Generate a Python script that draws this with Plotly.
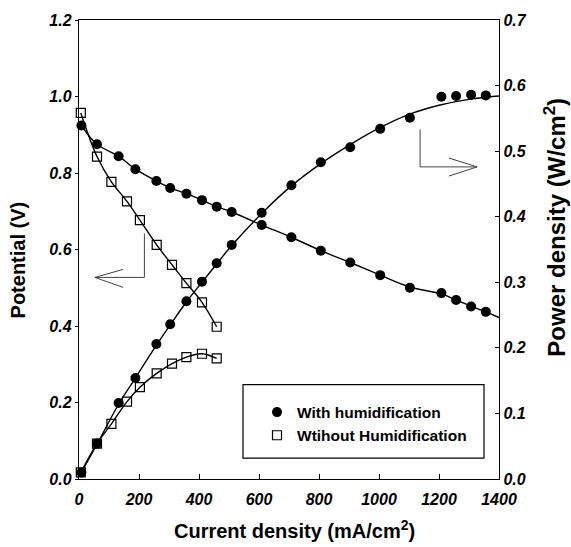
import plotly.graph_objects as go

# ---- data ----
I_hum = [8, 60, 132, 188, 258, 304, 358, 410, 459, 509, 609, 708, 806, 904, 1004, 1103, 1208, 1257, 1307, 1356]
V_hum = [0.924, 0.875, 0.844, 0.810, 0.779, 0.761, 0.746, 0.729, 0.712, 0.698, 0.664, 0.632, 0.597, 0.566, 0.533, 0.500, 0.486, 0.468, 0.451, 0.437]
P_hum = [0.010, 0.054, 0.116, 0.154, 0.206, 0.236, 0.271, 0.301, 0.329, 0.357, 0.406, 0.448, 0.483, 0.506, 0.534, 0.551, 0.583, 0.584, 0.586, 0.585]

I_dry = [6, 60, 108, 160, 203, 259, 310, 358, 410, 459]
V_dry = [0.957, 0.843, 0.777, 0.726, 0.677, 0.612, 0.560, 0.512, 0.462, 0.398]
P_dry = [0.010, 0.054, 0.084, 0.118, 0.140, 0.161, 0.176, 0.186, 0.191, 0.184]

# fitted curves
I_hum_fitV = [8, 60, 132, 188, 258, 304, 358, 410, 459, 509, 609, 708, 806, 904, 1004, 1103, 1208, 1257, 1307, 1356, 1400]
V_hum_fit = [0.924, 0.875, 0.844, 0.810, 0.779, 0.761, 0.746, 0.729, 0.712, 0.698, 0.664, 0.632, 0.597, 0.566, 0.533, 0.502, 0.484, 0.468, 0.452, 0.437, 0.422]
I_hum_fitP = [8, 60, 132, 188, 258, 304, 358, 410, 459, 509, 609, 708, 806, 904, 1000, 1100, 1200, 1300, 1400]
P_hum_fit = [0.010, 0.053, 0.114, 0.154, 0.204, 0.235, 0.270, 0.300, 0.328, 0.356, 0.405, 0.447, 0.481, 0.510, 0.535, 0.556, 0.570, 0.579, 0.584]

x_ticks = [0, 200, 400, 600, 800, 1000, 1200, 1400]
y_ticks = [0.0, 0.2, 0.4, 0.6, 0.8, 1.0, 1.2]
y2_ticks = [0.0, 0.1, 0.2, 0.3, 0.4, 0.5, 0.6, 0.7]

FONT = "Liberation Sans, Arial, sans-serif"
LINE = dict(color="black", width=1.4)
CIRC = dict(symbol="circle", size=10, color="black")
SQR = dict(symbol="square-open", size=9, color="black", line=dict(width=1.2, color="black"))

fig = go.Figure()
# lines
fig.add_trace(go.Scatter(x=I_hum_fitV, y=V_hum_fit, mode="lines", line=dict(**LINE, shape="spline"),
                         showlegend=False, hoverinfo="skip"))
fig.add_trace(go.Scatter(x=I_dry, y=V_dry, mode="lines", line=dict(**LINE, shape="spline"),
                         showlegend=False, hoverinfo="skip"))
fig.add_trace(go.Scatter(x=I_hum_fitP, y=P_hum_fit, mode="lines", line=dict(**LINE, shape="spline"),
                         yaxis="y2", showlegend=False, hoverinfo="skip"))
fig.add_trace(go.Scatter(x=I_dry, y=P_dry, mode="lines", line=dict(**LINE, shape="spline"),
                         yaxis="y2", showlegend=False, hoverinfo="skip"))
# markers
fig.add_trace(go.Scatter(x=I_hum, y=V_hum, mode="markers", marker=CIRC, name="With humidification",
                         legendgroup="hum", cliponaxis=False))
fig.add_trace(go.Scatter(x=I_dry, y=V_dry, mode="markers", marker=SQR, name="Wtihout Humidification",
                         legendgroup="dry", cliponaxis=False))
fig.add_trace(go.Scatter(x=I_hum, y=P_hum, mode="markers", marker=CIRC, yaxis="y2", showlegend=False,
                         legendgroup="hum", cliponaxis=False))
fig.add_trace(go.Scatter(x=I_dry, y=P_dry, mode="markers", marker=SQR, yaxis="y2", showlegend=False,
                         legendgroup="dry", cliponaxis=False))

tickfont = dict(family=FONT, size=16, color="black", weight="bold", style="italic")
L, R, T, B = 79, 72, 17, 68
W, H = 571, 547
pw, ph = W - L - R, H - T - B

def px(x):
    return (x - L) / pw

def py(y):
    return (H - B - y) / ph

fig.update_layout(
    width=W, height=H,
    margin=dict(l=L, r=R, t=T, b=B),
    paper_bgcolor="white", plot_bgcolor="white",
    font=dict(family=FONT, color="black"),
    xaxis=dict(range=[0, 1400], tickvals=x_ticks, ticktext=[str(v) for v in x_ticks],
               showgrid=False, zeroline=False, showline=True, linecolor="black", linewidth=1.4,
               mirror=True, ticks="inside", ticklen=5, tickcolor="black", tickfont=tickfont,
               ticklabelstandoff=6),
    yaxis=dict(range=[0, 1.2], tickvals=y_ticks, ticktext=[f"{v:.1f}" for v in y_ticks],
               showgrid=False, zeroline=False, showline=True, linecolor="black", linewidth=1.4,
               ticks="outside", ticklen=3, tickcolor="black", tickfont=tickfont),
    yaxis2=dict(range=[0, 0.7], tickvals=y2_ticks, ticktext=[f"{v:.1f}" for v in y2_ticks],
                overlaying="y", side="right", showgrid=False, zeroline=False, showline=True,
                linecolor="black", linewidth=1.4, ticks="inside", ticklen=4, tickcolor="black",
                tickfont=tickfont),
    showlegend=True,
    legend=dict(x=px(257), y=py(395), xanchor="left", yanchor="top", bgcolor="rgba(0,0,0,0)",
                borderwidth=0, tracegroupgap=0,
                font=dict(family=FONT, size=15.5, color="black", weight="bold")),
    annotations=[
        dict(text="Current density (mA/cm<sup>2</sup>)", xref="paper", yref="paper", x=px(294), y=py(530),
             xanchor="center", yanchor="middle", showarrow=False,
             font=dict(family=FONT, size=20, color="black", weight="bold")),
        dict(text="Potential (V)", xref="paper", yref="paper", x=px(18), y=py(258), textangle=-90,
             xanchor="center", yanchor="middle", showarrow=False,
             font=dict(family=FONT, size=20, color="black", weight="bold")),
        dict(text="Power density (W/cm<sup>2</sup>)", xref="paper", yref="paper", x=px(555), y=py(226),
             textangle=-90, xanchor="center", yanchor="middle", showarrow=False,
             font=dict(family=FONT, size=24, color="black", weight="bold")),
    ],
    shapes=[
        # legend frame
        dict(type="rect", xref="paper", yref="paper", x0=px(243), x1=px(484), y0=py(458), y1=py(384),
             line=dict(color="black", width=1.2), fillcolor="rgba(0,0,0,0)"),
        # left arrow
        dict(type="line", xref="x", yref="y", x0=218, x1=218, y0=0.642, y1=0.527, line=dict(color="#444", width=1)),
        dict(type="line", xref="x", yref="y", x0=218, x1=53, y0=0.527, y1=0.527, line=dict(color="#444", width=1)),
        dict(type="line", xref="x", yref="y", x0=53, x1=147, y0=0.527, y1=0.548, line=dict(color="#444", width=1)),
        dict(type="line", xref="x", yref="y", x0=53, x1=147, y0=0.527, y1=0.501, line=dict(color="#444", width=1)),
        # right arrow
        dict(type="line", xref="x", yref="y", x0=1137, x1=1137, y0=0.914, y1=0.816, line=dict(color="#444", width=1)),
        dict(type="line", xref="x", yref="y", x0=1137, x1=1327, y0=0.816, y1=0.816, line=dict(color="#444", width=1)),
        dict(type="line", xref="x", yref="y", x0=1327, x1=1233, y0=0.816, y1=0.839, line=dict(color="#444", width=1)),
        dict(type="line", xref="x", yref="y", x0=1327, x1=1233, y0=0.816, y1=0.792, line=dict(color="#444", width=1)),
    ],
)

fig.write_html("out.html")
